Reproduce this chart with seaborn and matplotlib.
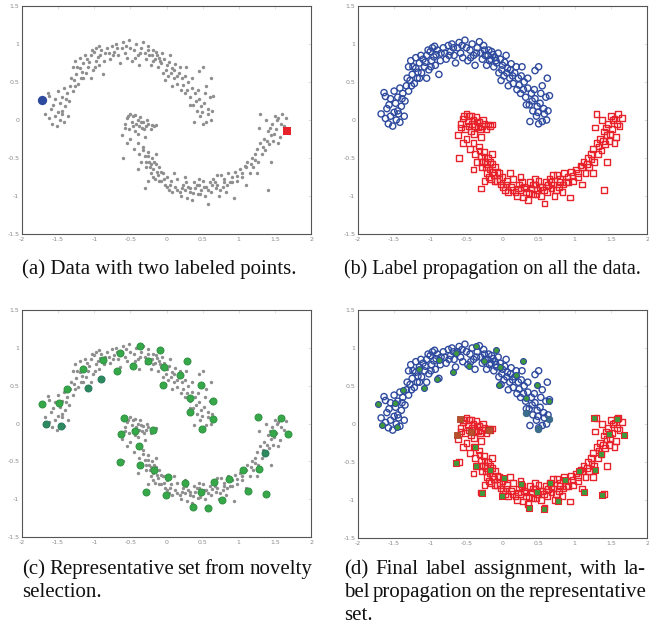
import matplotlib
matplotlib.use("Agg")
import matplotlib.pyplot as plt
import seaborn as sns
import pandas as pd

# --- DATA ---
upper_x = [-1.68, -1.62, -1.58, -1.55, -1.50, -1.52, -1.47, -1.45, -1.42, -1.40, -1.60, -1.55,
           -1.50, -1.45, -1.42, -1.38, -1.35, -1.33, -1.30, -1.36, -1.48, -1.64, -1.62,
           -1.28, -1.25, -1.22, -1.20, -1.18, -1.15, -1.12, -1.10, -1.08, -1.05, -1.02, -1.00,
           -0.98, -0.95, -0.93, -0.90, -0.88, -1.30, -1.27, -1.20, -1.15, -1.05, -0.97, -0.92,
           -0.85, -0.82, -0.78, -0.75, -0.72, -0.70, -0.67, -0.65, -0.62, -0.60, -0.58, -0.55,
           -0.52, -0.50, -0.48, -0.45, -0.42, -0.40, -0.38, -0.35, -0.32, -0.30, -0.28, -0.25,
           -0.22, -0.20,
           -0.18, -0.15, -0.12, -0.10, -0.08, -0.05, -0.03, 0.00, 0.02, 0.05, 0.07, 0.10,
           0.12, 0.15, 0.17, 0.20, 0.22, 0.25, 0.27, 0.30, -0.02, 0.08,
           0.32, 0.35, 0.37, 0.40, 0.42, 0.45, 0.47, 0.48, 0.50, 0.52, 0.55, 0.58,
           0.60, 0.62, 0.63, 0.65, 0.45, 0.50, 0.38, 0.55, 0.35,
           -1.57, -1.44, -1.39, -1.32, -1.26, -1.24, -1.17, -1.13, -1.07, -1.03, -0.99, -0.94,
           -0.86, -0.80, -0.74, -0.68, -0.56, -0.44, -0.36, -0.26, -0.24, -0.19, -0.16, -0.13,
           -0.09, -0.06, -0.01, 0.03, 0.06, 0.11, 0.14, 0.19, 0.23, 0.26, 0.29, 0.33,
           0.41, 0.44, 0.49, 0.53, 0.57, 0.61]
upper_y = [0.08, 0.02, -0.05, 0.05, 0.10, -0.08, 0.00, 0.12, -0.03, 0.18, 0.15, 0.28,
           0.38, 0.30, 0.42, 0.35, 0.25, 0.45, 0.38, 0.05, 0.22, 0.36, 0.31,
           0.52, 0.60, 0.48, 0.68, 0.55, 0.75, 0.62, 0.80, 0.70, 0.85, 0.66, 0.90,
           0.78, 0.83, 0.72, 0.92, 0.60, 0.70, 0.78, 0.82, 0.55, 0.55, 0.95, 0.86,
           0.88, 0.95, 0.80, 0.98, 0.90, 1.00, 0.85, 0.75, 0.95, 1.02, 0.88, 0.82,
           1.05, 0.95, 0.78, 0.92, 1.00, 0.85, 0.72, 0.95, 1.03, 0.88, 0.80, 0.92,
           0.72, 0.85,
           0.78, 0.90, 0.70, 0.82, 0.75, 0.62, 0.80, 0.72, 0.58, 0.85, 0.68, 0.55,
           0.74, 0.48, 0.62, 0.40, 0.55, 0.35, 0.70, 0.50, 0.52, 0.45,
           0.30, 0.42, 0.20, 0.35, 0.12, 0.28, 0.05, 0.18, -0.05, 0.22, -0.02, 0.08,
           0.30, 0.55, 0.12, 0.32, 0.65, 0.70, -0.02, 0.45, 0.55,
           0.20, 0.08, 0.28, 0.55, 0.45, 0.70, 0.63, 0.85, 0.76, 0.92, 0.70, 0.97,
           0.78, 0.88, 0.85, 0.95, 0.98, 0.82, 0.88, 0.98, 0.85, 0.92, 0.80, 0.86,
           0.78, 0.88, 0.66, 0.76, 0.62, 0.66, 0.58, 0.70, 0.46, 0.58, 0.40, 0.20,
           0.25, 0.40, 0.10, 0.35, 0.15, 0.00]

lower_x = [-0.62, -0.58, -0.55, -0.52, -0.50, -0.48, -0.46, -0.44, -0.42, -0.40, -0.38, -0.36,
           -0.34, -0.32, -0.30, -0.28, -0.25, -0.22, -0.20, -0.17, -0.15, -0.55, -0.50, -0.45,
           -0.60, -0.40,
           -0.38, -0.35, -0.33, -0.30, -0.28, -0.26, -0.24, -0.22, -0.20, -0.18, -0.16, -0.14,
           -0.12, -0.10, -0.08, -0.05, -0.02, 0.00, -0.25, -0.30, -0.40, -0.15,
           0.03, 0.06, 0.08, 0.12, 0.15, 0.18, 0.20, 0.23, 0.25, 0.28, 0.30, 0.33,
           0.35, 0.38, 0.40, 0.43, 0.45, 0.48, 0.50, 0.53, 0.55, 0.58, 0.60, 0.62,
           0.65, 0.68, 0.70, 0.72, 0.75, 0.78, 0.80, 0.83, 0.85, 0.88, 0.90, 0.93,
           0.95, 0.98, 0.70, 0.45, 0.25, 0.10,
           1.02, 1.05, 1.08, 1.12, 1.15, 1.18, 1.20, 1.22, 1.25, 1.27, 1.30, 1.32,
           1.35, 1.37, 1.40, 1.42, 1.44, 1.46, 1.48, 1.50, 1.52, 1.55, 1.57, 1.60,
           1.62, 1.65, 1.38, 1.30, 1.28, 1.55, 1.25, 1.40, 1.10, 1.45,
           -0.57, -0.53, -0.47, -0.43, -0.39, -0.35, -0.31, -0.27, -0.32, -0.29, -0.25, -0.23,
           -0.21, -0.19, -0.17, -0.13, -0.11, -0.07, -0.04, 0.01, 0.05, 0.14, 0.21, 0.27,
           0.32, 0.37, 0.42, 0.47, 0.52, 0.57, 0.63, 0.67, 0.74, 0.79, 0.84, 0.91,
           0.97, 1.04, 1.10, 1.17, 1.23, 1.33, 1.39, 1.43, 1.49, 1.53, 1.58]
lower_y = [-0.20, -0.05, 0.02, -0.12, 0.08, -0.02, 0.05, -0.15, -0.05, 0.00, -0.08, 0.04,
           -0.10, -0.03, -0.22, -0.08, -0.05, -0.12, -0.06, -0.08, -0.06, -0.30, -0.25, -0.38,
           -0.50, -0.30,
           -0.45, -0.55, -0.35, -0.48, -0.62, -0.42, -0.55, -0.70, -0.50, -0.65, -0.78, -0.58,
           -0.72, -0.62, -0.80, -0.70, -0.85, -0.75, -0.80, -0.90, -0.65, -0.45,
           -0.92, -0.80, -0.95, -0.88, -0.78, -0.95, -1.00, -0.85, -0.92, -1.02, -0.88, -0.95,
           -1.05, -0.82, -0.90, -0.98, -0.85, -0.92, -0.80, -1.00, -0.88, -1.10, -0.82, -0.95,
           -0.78, -0.90, -0.85, -1.00, -0.72, -0.88, -0.78, -0.95, -0.70, -0.82, -0.75, -1.02,
           -0.68, -0.80, -0.72, -0.78, -0.75, -0.70,
           -0.65, -0.75, -0.60, -0.55, -0.70, -0.50, -0.62, -0.45, -0.38, -0.55, -0.30, -0.45,
           -0.25, -0.40, -0.15, -0.32, -0.20, -0.05, -0.28, 0.05, -0.12, 0.02, -0.22, 0.08,
           -0.08, 0.03, 0.00, 0.08, -0.10, -0.30, -0.70, -0.92, -0.85, -0.55,
           -0.10, 0.05, -0.08, 0.06, -0.18, -0.02, -0.12, 0.00, -0.40, -0.55, -0.48, -0.62,
           -0.58, -0.75, -0.55, -0.68, -0.80, -0.68, -0.78, -0.88, -0.85, -0.92, -0.90, -0.82,
           -0.90, -0.96, -0.85, -0.97, -0.88, -0.92, -0.86, -0.82, -0.92, -0.82, -0.85, -0.82,
           -0.74, -0.70, -0.62, -0.58, -0.52, -0.35, -0.28, -0.10, -0.18, 0.00, -0.05]

# two labelled points in panel (a)
labeled_x = [-1.73, 1.67]
labeled_y = [0.26, -0.14]

# representative set (novelty selection)
rep_x = [-1.73, -1.67, -1.46, -1.49, -1.38, -1.16, -1.09, -0.91, -0.88, -0.68, -0.64, -0.46,
         -0.36, -0.25, -0.09, -0.04, -0.05, 0.18, 0.29, 0.48, 0.32, 0.64,
         0.33, 0.65, 0.49,
         -0.59, -0.63, -0.43, -0.18,
         -0.38, -0.65, -0.37, -0.17, 0.02, -0.28, -0.01, 0.25, 0.36, 0.48, 0.57, 0.66,
         0.77, 0.87, 1.06, 1.13, 1.28, 1.38, 1.37, 1.27, 1.58, 1.47, 1.68]
rep_y = [0.26, -0.01, -0.035, 0.27, 0.45, 0.72, 0.47, 0.59, 0.84, 0.69, 0.93, 0.76,
         1.02, 0.83, 0.97, 0.75, 0.51, 0.64, 0.83, 0.51, 0.34, 0.30,
         0.15, 0.06, -0.07,
         0.07, -0.14, -0.10, -0.08,
         -0.30, -0.51, -0.55, -0.61, -0.71, -0.91, -0.95, -0.79, -1.10, -0.90, -1.12, -0.77,
         -1.01, -0.74, -0.62, -0.89, -0.60, -0.93, -0.39, 0.08, 0.07, -0.13, -0.14]
# darker shade in panel (c)
rep_dark_c = [False, True, True, False, False, False, True, True, False, False, False, False,
              False, False, False, False, False, False, False, False, False, False,
              False, False, False,
              False, False, False, False,
              False, False, False, False, False, False, False, False, False, False, False, False,
              False, False, False, False, False, False, True, False, False, False, False]
# final assignment in panel (d)
rep_kind = ["up"] * 22 + ["up_dark"] * 3 + ["low_dark"] * 4 + ["low"] * 23

x_ticks = [-2, -1.5, -1, -0.5, 0, 0.5, 1, 1.5, 2]
x_tick_labels = ["-2", "-1.5", "-1", "-0.5", "0", "0.5", "1", "1.5", "2"]
y_ticks = [-1.5, -1, -0.5, 0, 0.5, 1, 1.5]
y_tick_labels = ["-1.5", "-1", "-0.5", "0", "0.5", "1", "1.5"]

BLUE = "#2e4a9e"
RED = "#e8222a"
GREY = "#8e8e8e"
GREEN = "#37a84a"
GREEN_DARK = "#2d8a5f"

upper = pd.DataFrame({"x": upper_x, "y": upper_y})
lower = pd.DataFrame({"x": lower_x, "y": lower_y})
moons = pd.concat([upper, lower], ignore_index=True)
reps = pd.DataFrame({"x": rep_x, "y": rep_y, "dark": rep_dark_c, "kind": rep_kind})

sns.set_style("white")
plt.rcParams["font.family"] = ["DejaVu Sans"]

fig = plt.figure(figsize=(6.49, 6.28), dpi=100)
W, H = 649, 628


def make_ax(left, top, right, bottom):
    return fig.add_axes([left / W, 1 - bottom / H, (right - left) / W, (bottom - top) / H])


def style_axes(ax):
    ax.set_xlim(-2, 2)
    ax.set_ylim(-1.5, 1.5)
    ax.set_xticks(x_ticks)
    ax.set_xticklabels(x_tick_labels)
    ax.set_yticks(y_ticks)
    ax.set_yticklabels(y_tick_labels)
    ax.tick_params(direction="in", length=2.5, width=0.4, color="#c8c8c8",
                   labelsize=4.5, labelcolor="#8a8a8a", top=True, right=True, pad=2)
    for s in ax.spines.values():
        s.set_color("#555555")
        s.set_linewidth(0.8)
    ax.set_xlabel("")
    ax.set_ylabel("")


ax_a = make_ax(22, 6, 311, 234)
ax_b = make_ax(358, 6, 647, 234)
ax_c = make_ax(22, 310, 311, 537)
ax_d = make_ax(358, 310, 647, 538)

# (a) data with two labelled points
sns.scatterplot(data=moons, x="x", y="y", ax=ax_a, color=GREY, s=6, linewidth=0, legend=False)
sns.scatterplot(x=labeled_x[:1], y=labeled_y[:1], ax=ax_a, color=BLUE, s=45, linewidth=0)
sns.scatterplot(x=labeled_x[1:], y=labeled_y[1:], ax=ax_a, color=RED, s=32, marker="s", linewidth=0)

# (b) label propagation on all data
sns.scatterplot(data=upper, x="x", y="y", ax=ax_b, color="none", edgecolor=BLUE,
                marker="o", s=20, linewidth=1.0)
sns.scatterplot(data=lower, x="x", y="y", ax=ax_b, color="none", edgecolor=RED,
                marker="s", s=17, linewidth=1.0)

# (c) representative set
sns.scatterplot(data=moons, x="x", y="y", ax=ax_c, color=GREY, s=6, linewidth=0)
sns.scatterplot(data=reps[~reps["dark"]], x="x", y="y", ax=ax_c, color=GREEN,
                edgecolor="#2a8c3c", s=26, linewidth=0.6)
sns.scatterplot(data=reps[reps["dark"]], x="x", y="y", ax=ax_c, color=GREEN_DARK,
                edgecolor="#24775a", s=26, linewidth=0.6)

# (d) final label assignment
sns.scatterplot(data=upper, x="x", y="y", ax=ax_d, color="none", edgecolor=BLUE,
                marker="o", s=20, linewidth=1.0)
sns.scatterplot(data=lower, x="x", y="y", ax=ax_d, color="none", edgecolor=RED,
                marker="s", s=17, linewidth=1.0)
sns.scatterplot(data=reps[reps["kind"] == "up"], x="x", y="y", ax=ax_d, color="#3f9a3c",
                edgecolor=BLUE, marker="o", s=18, linewidth=0.8)
sns.scatterplot(data=reps[reps["kind"] == "low"], x="x", y="y", ax=ax_d, color="#3f9a3c",
                edgecolor=RED, marker="s", s=16, linewidth=0.8)
sns.scatterplot(data=reps[reps["kind"] == "up_dark"], x="x", y="y", ax=ax_d, color="#3b6d8f",
                edgecolor="#355f80", marker="o", s=22, linewidth=0.6)
sns.scatterplot(data=reps[reps["kind"] == "low_dark"], x="x", y="y", ax=ax_d, color="#b9502c",
                edgecolor="#a8452a", marker="s", s=22, linewidth=0.6)

for ax in (ax_a, ax_b, ax_c, ax_d):
    style_axes(ax)

# --- CAPTIONS ---
cap_kw = dict(family=["Liberation Serif", "DejaVu Serif"], fontsize=15, color="#111111",
              va="baseline", ha="left")
fig.canvas.draw()
renderer = fig.canvas.get_renderer()


def justified_line(words, x0, x1, y_px):
    texts = [fig.text(0, 1 - y_px / H, w, **cap_kw) for w in words]
    widths = [t.get_window_extent(renderer).width for t in texts]
    gap = ((x1 - x0) - sum(widths)) / (len(words) - 1)
    pos = x0
    for t, w in zip(texts, widths):
        t.set_x(pos / W)
        pos += w + gap


fig.text(22 / W, 1 - 274 / H, "(a) Data with two labeled points.", **cap_kw)
fig.text(344 / W, 1 - 274 / H, "(b) Label propagation on all the data.",
         **{**cap_kw, "fontsize": 14.4})
justified_line("(c) Representative set from novelty".split(), 22, 312, 574)
fig.text(22 / W, 1 - 597 / H, "selection.", **cap_kw)
justified_line("(d) Final label assignment, with la-".split(), 344, 646, 574)
justified_line("bel propagation on the representative".split(), 344, 646, 597)
fig.text(344 / W, 1 - 620 / H, "set.", **cap_kw)

fig.savefig("out.png", dpi=100)
